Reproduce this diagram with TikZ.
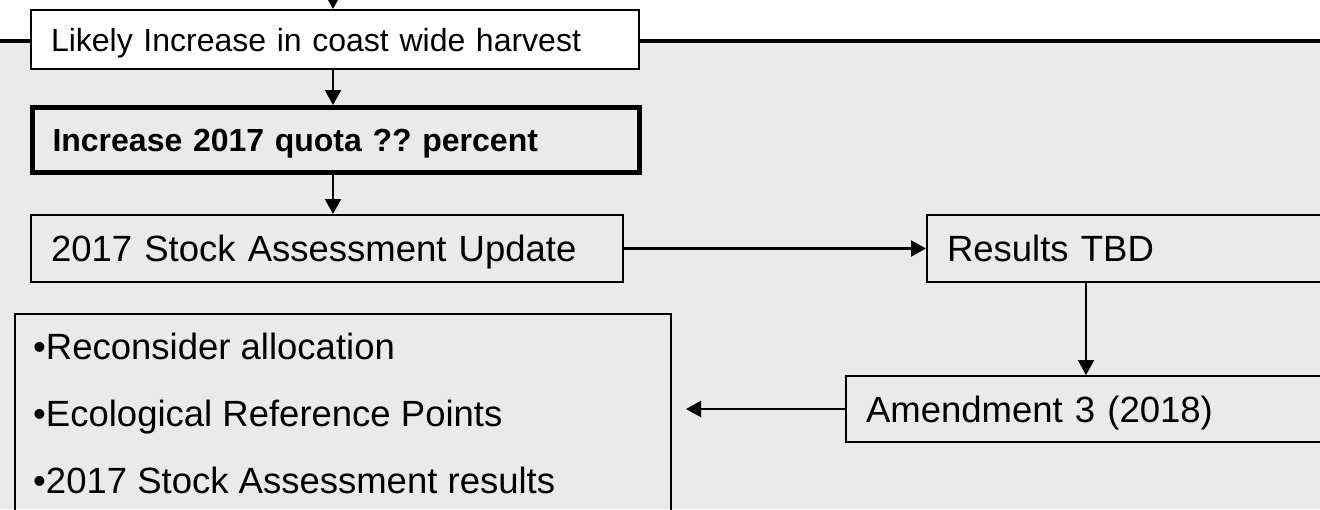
\documentclass[tikz,border=0pt]{standalone}
\usepackage{fontspec}
\setmainfont{Liberation Sans}
\usetikzlibrary{arrows.meta}
\definecolor{paper}{RGB}{234,234,234}
\frenchspacing

\begin{document}
\begin{tikzpicture}[x=1pt, y=-1pt,
    box/.style={rectangle, draw=black, line width=2pt, anchor=north west,
                inner xsep=20pt, inner ysep=0pt, align=left},
    smalltxt/.style={font=\fontsize{32}{38}\selectfont, text height=28pt, text depth=5pt},
    bigtxt/.style={font=\fontsize{36.5}{44}\selectfont, text height=32pt, text depth=6pt},
    item/.style={bigtxt, anchor=base west, inner sep=0pt},
    arrow/.style={-{Triangle[length=15pt, width=16pt]}, line width=2.2pt},
    headline/.style={line width=3.5pt}
]

    % Page and background
    \useasboundingbox (0,0) rectangle (1320,509);
    \fill[white] (0,0) rectangle (1320,41);
    \fill[paper] (0,41) rectangle (1320,509);

    % Boxes
    \node[box, smalltxt, fill=white, text width=568pt, minimum height=59pt] (likely) at (30,9)
        {Likely Increase in coast wide harvest};
    \node[box, smalltxt, line width=5pt, text width=567pt, minimum height=65pt] (quota) at (30,105)
        {\bfseries Increase 2017 quota ?? percent};
    \node[box, bigtxt, text width=552pt, minimum height=67pt] (update) at (30,214)
        {2017 Stock Assessment Update};
    \node[box, bigtxt, text width=374pt, minimum height=67pt] (results) at (926,214)
        {Results TBD};
    \node[box, bigtxt, text width=455pt, minimum height=66pt] (amend) at (845,375)
        {Amendment 3 (2018)};

    % List of issues
    \node[box, minimum width=656pt, minimum height=232pt] (ideas) at (14,313) {};
    \node[item] (item1) at (33,359) {•Reconsider allocation};
    \node[item] (item2) at (33,426) {•Ecological Reference Points};
    \node[item] (item3) at (33,493) {•2017 Stock Assessment results};

    % Rule across the top
    \coordinate (ruleL) at (0,41);
    \coordinate (ruleR) at (1320,41);
    \draw[headline] (ruleL) -- (ruleL -| likely.west);
    \draw[headline] (ruleR -| likely.east) -- (ruleR);

    % Flow
    \coordinate (topin) at (333,-6);
    \coordinate (back) at (686,409);
    \draw[arrow] (topin) -- (topin |- likely.north);
    \draw[arrow] (likely.south -| topin) -- (quota.north -| topin);
    \draw[arrow] (quota.south -| topin) -- (update.north -| topin);
    \draw[arrow] (update.east) -- (results.west);
    \draw[arrow] ([xshift=160pt]results.south west) -- ([xshift=160pt]results.south west |- amend.north);
    \draw[arrow] (amend.west) -- (amend.west -| back);

\end{tikzpicture}
\end{document}
